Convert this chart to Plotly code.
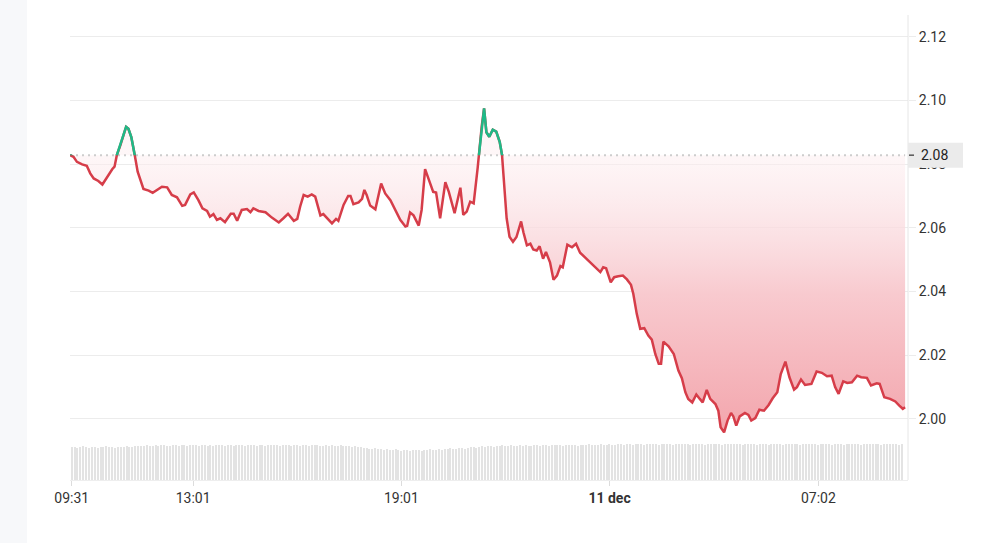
import pandas as pd
import plotly.graph_objects as go

# minutes after 10 dec 09:31 and price
minutes = [
    -3, 3, 9, 18, 26, 32, 38, 46, 53, 61, 70, 74, 78, 84, 88, 94, 98, 103, 109, 114,
    124, 133, 140, 147, 156, 165, 173, 182, 191, 196, 205, 211, 219, 226, 234, 239, 245, 251, 257, 265,
    275, 280, 286, 294, 303, 309, 314, 323, 335, 346, 358, 366, 374, 384, 390, 395, 401, 408, 415, 421,
    430, 435, 444, 450, 457, 461, 470, 478, 482, 487, 496, 502, 506, 510, 516, 525, 535, 542, 551, 559,
    568, 577, 580, 585, 591, 600, 605, 611, 617, 625, 630, 637, 646, 652, 662, 672, 677, 683, 689, 695,
    702, 705, 709, 713, 717, 722, 728, 734, 740, 744, 748, 752, 757, 763, 769, 777, 781, 787, 793, 798,
    804, 809, 815, 820, 827, 833, 839, 845, 849, 857, 865, 872, 879, 891, 899, 908, 914, 919, 924, 932,
    938, 945, 953, 960, 967, 971, 977, 983, 990, 997, 1003, 1009, 1015, 1019, 1023, 1032, 1041, 1049, 1055, 1061,
    1066, 1073, 1080, 1086, 1091, 1098, 1104, 1113, 1118, 1122, 1128, 1134, 1140, 1144, 1149, 1155, 1164, 1170, 1175, 1182,
    1189, 1197, 1205, 1212, 1220, 1226, 1234, 1241, 1249, 1254, 1261, 1268, 1279, 1288, 1297, 1306, 1314, 1320, 1326, 1334,
    1341, 1349, 1358, 1365, 1375, 1382, 1392, 1397, 1405, 1415, 1424, 1431, 1437, 1441,
]
price = [
    2.0828, 2.0823, 2.0807, 2.0799, 2.0795, 2.0771, 2.0755, 2.0747, 2.0736, 2.0760, 2.0784, 2.0792, 2.0828, 2.0859, 2.0880, 2.0917, 2.0911, 2.0885, 2.0828, 2.0776,
    2.0722, 2.0717, 2.0710, 2.0718, 2.0729, 2.0727, 2.0703, 2.0696, 2.0669, 2.0672, 2.0705, 2.0711, 2.0687, 2.0661, 2.0653, 2.0635, 2.0643, 2.0625, 2.0630, 2.0618,
    2.0644, 2.0644, 2.0622, 2.0656, 2.0659, 2.0649, 2.0661, 2.0653, 2.0649, 2.0632, 2.0617, 2.0630, 2.0644, 2.0622, 2.0628, 2.0667, 2.0703, 2.0698, 2.0705, 2.0698,
    2.0639, 2.0643, 2.0625, 2.0614, 2.0628, 2.0622, 2.0672, 2.0700, 2.0700, 2.0674, 2.0680, 2.0691, 2.0719, 2.0703, 2.0670, 2.0658, 2.0739, 2.0708, 2.0687, 2.0658,
    2.0625, 2.0604, 2.0606, 2.0648, 2.0639, 2.0607, 2.0656, 2.0784, 2.0755, 2.0713, 2.0711, 2.0630, 2.0743, 2.0713, 2.0646, 2.0726, 2.0641, 2.0651, 2.0682, 2.0677,
    2.0790, 2.0850, 2.0920, 2.0975, 2.0900, 2.0886, 2.0908, 2.0902, 2.0870, 2.0829, 2.0735, 2.0630, 2.0572, 2.0556, 2.0571, 2.0620, 2.0586, 2.0545, 2.0550, 2.0532,
    2.0529, 2.0542, 2.0503, 2.0524, 2.0492, 2.0437, 2.0450, 2.0480, 2.0476, 2.0547, 2.0539, 2.0550, 2.0522, 2.0501, 2.0490, 2.0473, 2.0461, 2.0476, 2.0473, 2.0429,
    2.0445, 2.0448, 2.0450, 2.0438, 2.0421, 2.0393, 2.0330, 2.0283, 2.0285, 2.0262, 2.0249, 2.0204, 2.0173, 2.0173, 2.0243, 2.0228, 2.0204, 2.0152, 2.0128, 2.0084,
    2.0063, 2.0052, 2.0077, 2.0063, 2.0052, 2.0091, 2.0063, 2.0047, 2.0026, 1.9974, 1.9958, 1.9995, 2.0019, 2.0008, 1.9979, 2.0008, 2.0019, 2.0013, 1.9995, 2.0003,
    2.0029, 2.0026, 2.0044, 2.0065, 2.0084, 2.0141, 2.0180, 2.0131, 2.0092, 2.0100, 2.0124, 2.0107, 2.0110, 2.0149, 2.0145, 2.0134, 2.0136, 2.0100, 2.0079, 2.0118,
    2.0113, 2.0115, 2.0136, 2.0131, 2.0129, 2.0105, 2.0112, 2.0110, 2.0068, 2.0063, 2.0055, 2.0042, 2.0032, 2.0037,
]
prev_close = 2.0828

# 5-minute volume bars
volume = [
    33, 33, 32, 33, 34, 33, 32, 33, 33, 32, 33, 33, 34, 33, 33, 32, 33, 33, 33, 34, 33, 33, 34, 34,
    34, 34, 35, 34, 34, 35, 34, 35, 35, 34, 34, 35, 35, 34, 35, 35, 34, 35, 35, 35, 34, 35, 35, 34,
    35, 34, 35, 35, 35, 34, 35, 35, 34, 35, 35, 35, 34, 35, 35, 35, 34, 35, 35, 34, 35, 35, 35, 35,
    34, 35, 35, 35, 34, 35, 35, 34, 35, 35, 34, 35, 35, 35, 34, 34, 35, 34, 35, 34, 34, 35, 34, 34,
    34, 33, 34, 33, 33, 32, 32, 31, 31, 32, 31, 31, 30, 31, 30, 30, 31, 30, 29, 30, 30, 29, 30, 30,
    30, 29, 30, 30, 31, 30, 30, 31, 30, 31, 31, 32, 31, 31, 32, 32, 31, 32, 33, 33, 32, 33, 34, 33,
    34, 34, 33, 34, 34, 35, 34, 34, 35, 34, 34, 35, 34, 35, 34, 34, 35, 35, 34, 35, 35, 34, 35, 35,
    35, 35, 34, 35, 35, 35, 35, 34, 35, 35, 35, 36, 35, 35, 35, 36, 35, 35, 36, 35, 35, 36, 36, 35,
    36, 36, 35, 36, 36, 36, 35, 36, 36, 36, 36, 35, 36, 36, 36, 36, 35, 36, 36, 36, 36, 36, 35, 36,
    36, 36, 36, 35, 36, 36, 36, 36, 36, 35, 36, 36, 36, 36, 36, 36, 35, 36, 36, 36, 36, 35, 36, 36,
    36, 35, 36, 36, 36, 36, 35, 36, 36, 36, 36, 36, 35, 36, 36, 36, 36, 36, 35, 36, 36, 36, 36, 35,
    36, 36, 36, 35, 36, 36, 36, 36, 36, 35, 36, 36, 36, 36, 36, 36, 35, 36, 36, 36, 36, 36, 35, 36,
]

tick_times = ['2024-12-10 09:31', '2024-12-10 13:01', '2024-12-10 19:01', '2024-12-11 01:01', '2024-12-11 07:02']
tick_labels = ['09:31', '13:01', '19:01', '<b>11 dec</b>', '07:02']

RED = '#d63d49'
GREEN = '#1fb987'
FONT = 'Roboto, Arial, sans-serif'

base = pd.Timestamp('2024-12-10 09:31')
times = [base + pd.Timedelta(minutes=m) for m in minutes]
vol_times = [base + pd.Timedelta(minutes=5 * i) for i in range(len(volume))]

# layout geometry (pixels of a 1006x543 page)
W, H = 1006, 543
ML, MR, MT, MB = 70, 98, 15, 63
plot_w = W - ML - MR
plot_h = H - MT - MB
y_range = [1.9934, 2.1268]
price_dom = [0.086, 1.0]
ref_frac = price_dom[0] + (prev_close - y_range[0]) / (y_range[1] - y_range[0]) * (price_dom[1] - price_dom[0])

fig = go.Figure()

# volume bars
fig.add_trace(go.Bar(
    x=vol_times, y=volume, xaxis='x', yaxis='y3',
    marker=dict(color='#e3e3e3', line=dict(width=0)),
    width=124000, hoverinfo='skip'
))

# previous close (dotted)
fig.add_trace(go.Scatter(
    x=[times[0], times[-1]], y=[prev_close, prev_close],
    mode='lines', line=dict(color='#cdcdcd', width=2, dash='2px,4px'),
    hoverinfo='skip'
))

# price line in red with gradient fill down to it
fig.add_trace(go.Scatter(
    x=times, y=price, mode='lines',
    line=dict(color=RED, width=2.5),
    fill='tonexty',
    fillgradient=dict(
        type='vertical', start=min(price), stop=prev_close,
        colorscale=[[0, 'rgb(243,166,173)'], [0.5, 'rgb(248,202,207)'],
                    [1, 'rgba(253,238,240,0.5)']]
    ),
    hoverinfo='skip'
))

# green copy, clipped to the area above previous close
fig.add_trace(go.Scatter(
    x=times, y=price, mode='lines', xaxis='x2', yaxis='y2',
    line=dict(color=GREEN, width=2.5), hoverinfo='skip'
))

x_range = [base - pd.Timedelta(minutes=3), base + pd.Timedelta(minutes=1446)]

fig.update_layout(
    width=W, height=H,
    margin=dict(l=ML, r=MR, t=MT, b=MB),
    paper_bgcolor='white', plot_bgcolor='rgba(0,0,0,0)',
    showlegend=False, hovermode=False,
    font=dict(family=FONT, size=14, color='#333333'),
    bargap=0,
    xaxis=dict(
        type='date', range=x_range, domain=[0, 1], anchor='y3',
        tickvals=tick_times, ticktext=tick_labels,
        ticks='outside', ticklen=5, tickcolor='#dcdcdc',
        showgrid=False, zeroline=False,
        showline=True, linecolor='#eeeeee',
        tickfont=dict(size=14, color='#333333')
    ),
    xaxis2=dict(type='date', matches='x', domain=[0, 1], anchor='y2', visible=False),
    yaxis=dict(
        range=y_range, domain=price_dom, anchor='x', side='right',
        tick0=2.0, dtick=0.02, tickformat='.2f',
        gridcolor='#ececec', gridwidth=1, zeroline=False,
        ticks='outside', ticklen=7, tickcolor='#ececec',
        tickfont=dict(size=14, color='#333333')
    ),
    yaxis2=dict(range=[prev_close, y_range[1]], domain=[ref_frac, 1.0], anchor='x2', visible=False),
    yaxis3=dict(range=[0, 37], domain=[0, (H - MB - 443) / plot_h], anchor='x', visible=False),
)

box_half = 12.5 / plot_h
fig.update_layout(
    shapes=[
        # grey strip at the left edge of the page
        dict(type='rect', xref='paper', yref='paper',
             x0=-ML / plot_w, x1=-(ML - 27) / plot_w, y0=-MB / plot_h, y1=1 + MT / plot_h,
             fillcolor='#f7f8fa', line=dict(width=0), layer='below'),
        # right border
        dict(type='line', xref='paper', yref='paper', x0=1, x1=1, y0=0, y1=1,
             line=dict(color='#e6e6e6', width=1)),
        # previous close label box
        dict(type='rect', xref='paper', yref='paper',
             x0=1.0, x1=(963 - ML) / plot_w, y0=ref_frac - box_half, y1=ref_frac + box_half,
             fillcolor='#ebebeb', line=dict(width=0), layer='above'),
        dict(type='line', xref='paper', yref='paper',
             x0=(909 - ML) / plot_w, x1=(914 - ML) / plot_w, y0=ref_frac, y1=ref_frac,
             line=dict(color='#555555', width=1.5), layer='above'),
    ],
    annotations=[
        dict(xref='paper', yref='paper', x=(919 - ML) / plot_w, y=ref_frac,
             xanchor='left', yanchor='middle', showarrow=False,
             text=f'{prev_close:.2f}', font=dict(size=14, color='#222222')),
    ],
)

fig.write_html("out.html", config={'displayModeBar': False},
               post_script="document.body.style.margin='0';")
